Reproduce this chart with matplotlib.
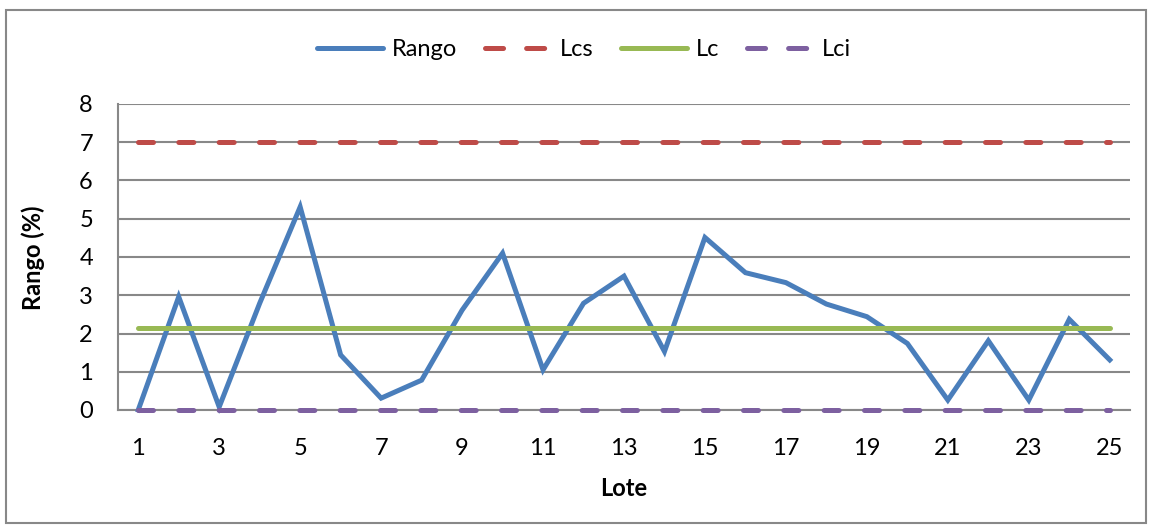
import numpy as np
import matplotlib
matplotlib.use("Agg")
import matplotlib.pyplot as plt
from matplotlib.patches import Rectangle

plt.rcParams['font.family'] = ['Lato', 'DejaVu Sans']
plt.rcParams['lines.scale_dashes'] = False

# datos del grafico de control de rangos
lotes = list(range(1, 26))
rango = [0.00, 2.96, 0.08, 2.79, 5.31, 1.44, 0.31, 0.78, 2.61, 4.10,
         1.05, 2.79, 3.50, 1.53, 4.51, 3.59, 3.33, 2.77, 2.44, 1.74,
         0.26, 1.81, 0.26, 2.37, 1.31]
lcs = [7.0] * 25
lc = [2.14] * 25
lci = [0.0] * 25
ticks_x = [1, 3, 5, 7, 9, 11, 13, 15, 17, 19, 21, 23, 25]
ticks_y = [0, 1, 2, 3, 4, 5, 6, 7, 8]

azul = '#4A7EBB'
rojo = '#BE4B48'
verde = '#98B954'
morado = '#7D60A0'
gris = '#888888'

W, H = 1152, 527
fig = plt.figure(figsize=(W / 100, H / 100), dpi=100)
ax = fig.add_axes([118 / W, 1 - 410 / H, (1130 - 118) / W, (410 - 104) / H])

# borde exterior del grafico
fig.patches.append(Rectangle((6 / W, 4 / H), (1146 - 6) / W, (517 - 4) / H,
                             transform=fig.transFigure, fill=False,
                             edgecolor=gris, linewidth=1.5))

# cada serie se dibuja encima de la anterior
lw = 3.6
guion = (10.8, 18.24)
ax.plot(lotes, rango, color=azul, lw=lw, label='Rango', solid_joinstyle='miter',
        zorder=3, clip_on=False)
ax.plot(lotes, lcs, color=rojo, lw=lw, dashes=guion, dash_capstyle='round',
        label='Lcs', zorder=4, clip_on=False)
ax.plot(lotes, lc, color=verde, lw=lw, solid_capstyle='round', label='Lc',
        zorder=5, clip_on=False)
ax.plot(lotes, lci, color=morado, lw=lw, dashes=guion, dash_capstyle='round',
        label='Lci', zorder=6, clip_on=False)

ax.set_xlim(0.5, 25.5)
ax.set_ylim(0, 8)
ax.set_xticks(ticks_x)
ax.set_yticks(ticks_y)
ax.tick_params(axis='both', length=0, labelsize=17)
ax.tick_params(axis='x', pad=20)
ax.tick_params(axis='y', pad=18)
ax.yaxis.grid(True, color=gris, linewidth=1.5)
ax.set_axisbelow(True)
for lado in ['top', 'right']:
    ax.spines[lado].set_visible(False)
for lado in ['left', 'bottom']:
    ax.spines[lado].set_color(gris)
    ax.spines[lado].set_linewidth(1.5)

fig.text(33 / W, 1 - 258 / H, 'Rango (%)', rotation=90, ha='center', va='center',
         fontsize=17, fontweight='bold')
fig.text(624 / W, 1 - 488 / H, 'Lote', ha='center', va='center',
         fontsize=17, fontweight='bold')

leg = fig.legend(loc='center', bbox_to_anchor=(584 / W, 1 - 50 / H), ncol=4,
                 frameon=False, fontsize=17, handlelength=2.8,
                 handletextpad=0.35, columnspacing=1.2)
for linea in leg.get_lines():
    if linea.get_linestyle() == '-':
        linea.set_solid_capstyle('round')
    else:
        linea.set_dashes((13, 16.6))
        linea.set_dash_capstyle('round')

fig.savefig('out.png', dpi=100)
